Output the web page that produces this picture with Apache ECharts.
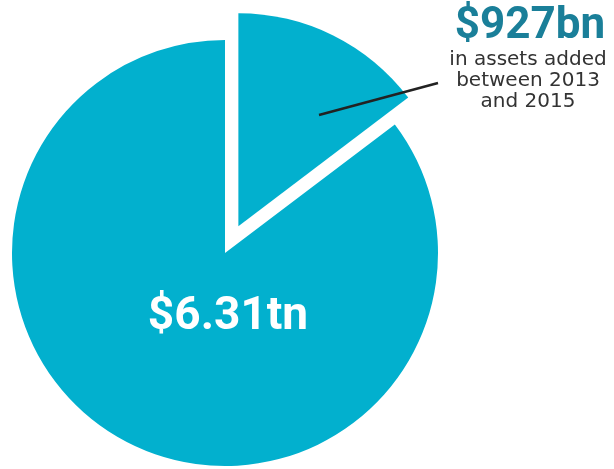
<!DOCTYPE html>
<html>
<head>
<meta charset="utf-8">
<style>
  html, body { margin: 0; padding: 0; background: #ffffff; }
  #chart { width: 614px; height: 469px; }
</style>
<script src="https://cdn.jsdelivr.net/npm/echarts@6/dist/echarts.min.js"></script>
</head>
<body>
<div id="chart"></div>
<script>
// Assets in $bn: total held, and the part added between 2013 and 2015
const totalAssets = [6310];
const addedAssets = [927];
const sliceNames = ['added', 'existing'];
const noteLines = ['in assets added', 'between 2013', 'and 2015'];

const added = addedAssets[0];
const total = totalAssets[0];
const sliceValues = [added, total - added];

const teal = '#02b0ce';
const chart = echarts.init(document.getElementById('chart'));

chart.setOption({
  backgroundColor: '#ffffff',
  animation: false,
  series: [{
    type: 'pie',
    center: [225, 253],
    radius: [0, 213],
    startAngle: 90,
    clockwise: true,
    selectedMode: 'single',
    selectedOffset: 30,
    silent: true,
    itemStyle: { color: teal, borderWidth: 0 },
    label: { show: false },
    labelLine: { show: false },
    data: sliceNames.map((n, i) => ({
      name: n,
      value: sliceValues[i],
      selected: i === 0
    }))
  }],
  graphic: [
    {
      type: 'text',
      z: 100,
      style: {
        text: '$' + (total / 1000).toFixed(2) + 'tn',
        x: 228, y: 317,
        align: 'center', verticalAlign: 'middle',
        fill: '#ffffff',
        font: 'bold 46px Roboto, sans-serif'
      }
    },
    {
      type: 'line',
      z: 100,
      shape: { x1: 319, y1: 115, x2: 438, y2: 83 },
      style: { stroke: '#222222', lineWidth: 2.5 }
    },
    {
      type: 'text',
      z: 100,
      style: {
        text: '$' + added + 'bn',
        x: 530, y: 27,
        align: 'center', verticalAlign: 'middle',
        fill: '#1a7f99',
        font: 'bold 44px Roboto, sans-serif'
      }
    },
    {
      type: 'text',
      z: 100,
      style: {
        text: noteLines.join('\n'),
        x: 528, y: 81,
        align: 'center', verticalAlign: 'middle',
        lineHeight: 21,
        fill: '#333333',
        font: '20px "DejaVu Sans", sans-serif'
      }
    }
  ]
});
</script>
</body>
</html>
